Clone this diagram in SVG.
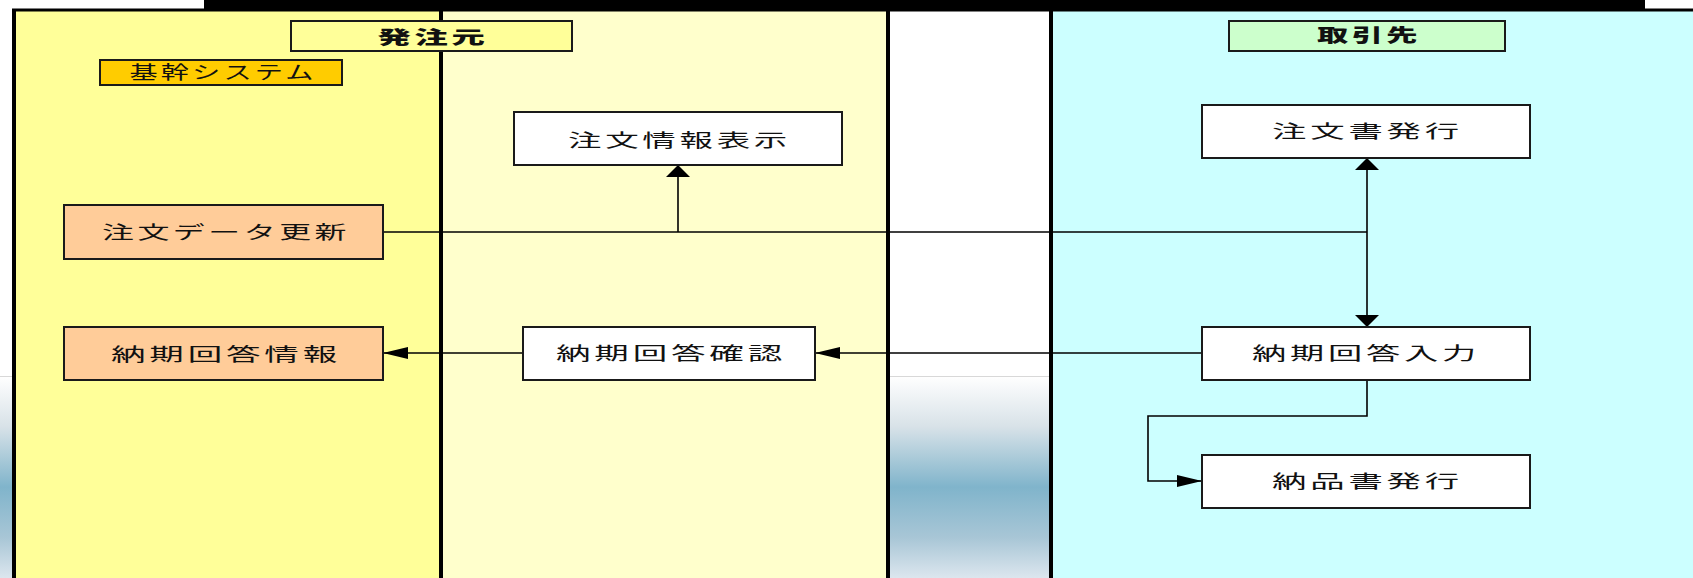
<svg xmlns="http://www.w3.org/2000/svg" width="1693" height="578" viewBox="0 0 1693 578">
<style>
.box{stroke:#1a1a1a;stroke-width:2}
.w{fill:#ffffff}
.o{fill:#ffcc99}
.t{font-family:"Noto Sans CJK JP","Noto Sans CJK SC",sans-serif;font-size:18px;fill:#111;text-anchor:middle;letter-spacing:2px}
.tb{font-weight:900}
.ln{fill:none;stroke:#000;stroke-width:1.6}
.div{stroke:#000;stroke-width:4}
</style>
<defs>
<linearGradient id="bg" x1="0" y1="0" x2="0" y2="1">
<stop offset="0" stop-color="#ffffff"/>
<stop offset="0.25" stop-color="#d8e2e8"/>
<stop offset="0.55" stop-color="#80b4cb"/>
<stop offset="0.8" stop-color="#a8c6d6"/>
<stop offset="1" stop-color="#dce6ee"/>
</linearGradient>
<marker id="ah" markerUnits="userSpaceOnUse" markerWidth="25" markerHeight="12" refX="25" refY="6" orient="auto">
<path d="M0,0 L25,6 L0,12 Z" fill="#000"/>
</marker>
<marker id="av" markerUnits="userSpaceOnUse" markerWidth="12" markerHeight="24" refX="12" refY="12" orient="auto">
<path d="M0,0 L12,12 L0,24 Z" fill="#000"/>
</marker>
</defs>

<g id="background">
<rect x="0" y="0" width="1693" height="578" fill="#ffffff"/>
<rect x="0" y="376" width="14" height="202" fill="url(#bg)"/>
<line x1="0" y1="376.5" x2="14" y2="376.5" stroke="#d8d8d8" stroke-width="1"/>
<rect x="14" y="10" width="427" height="568" fill="#ffff99"/>
<rect x="441" y="10" width="447" height="568" fill="#ffffcc"/>
<rect x="888" y="10" width="163" height="568" fill="#ffffff"/>
<rect x="888" y="376" width="163" height="202" fill="url(#bg)"/>
<line x1="888" y1="376.5" x2="1051" y2="376.5" stroke="#d8d8d8" stroke-width="1"/>
<rect x="1051" y="10" width="642" height="568" fill="#ccffff"/>
<rect x="204" y="0" width="1441" height="11" fill="#000"/>
<line x1="12" y1="10" x2="1693" y2="10" stroke="#000" stroke-width="3"/>
<line class="div" x1="14" y1="9" x2="14" y2="578"/>
<line class="div" x1="441" y1="10" x2="441" y2="578"/>
<line class="div" x1="888" y1="10" x2="888" y2="578"/>
<line class="div" x1="1051" y1="10" x2="1051" y2="578"/>
</g>

<g id="connectors">
<path class="ln" d="M383,232 H1367"/>
<path class="ln" d="M678,232 V165" marker-end="url(#av)"/>
<path class="ln" d="M1367,232 V158" marker-end="url(#av)"/>
<path class="ln" d="M1367,232 V327" marker-end="url(#av)"/>
<path class="ln" d="M1202,353 H815" marker-end="url(#ah)"/>
<path class="ln" d="M523,353 H383" marker-end="url(#ah)"/>
<path class="ln" d="M1367,380 V416 H1148 V481 H1202" marker-end="url(#ah)"/>
</g>

<g id="header-hacchumoto">
<rect class="box" x="291" y="21" width="281" height="30" fill="#ffff99"/>
<text class="t tb" x="433" y="43.5" textLength="111" lengthAdjust="spacingAndGlyphs">発注元</text>
</g>
<g id="header-kikan">
<rect class="box" x="100" y="60" width="242" height="25" fill="#ffcc00"/>
<text class="t" x="223" y="79" textLength="187" lengthAdjust="spacingAndGlyphs">基幹システム</text>
</g>
<g id="header-torihikisaki">
<rect class="box" x="1229" y="21" width="276" height="30" fill="#ccffcc"/>
<text class="t tb" x="1369" y="42" textLength="104" lengthAdjust="spacingAndGlyphs">取引先</text>
</g>

<g id="node-chumon-data">
<rect class="box o" x="64" y="205" width="319" height="54"/>
<text class="t" x="226" y="239" textLength="248" lengthAdjust="spacingAndGlyphs">注文データ更新</text>
</g>
<g id="node-noki-joho">
<rect class="box o" x="64" y="327" width="319" height="53"/>
<text class="t" x="226" y="360.5" textLength="230" lengthAdjust="spacingAndGlyphs">納期回答情報</text>
</g>
<g id="node-chumon-joho">
<rect class="box w" x="514" y="112" width="328" height="53"/>
<text class="t" x="679.5" y="146.5" textLength="223" lengthAdjust="spacingAndGlyphs">注文情報表示</text>
</g>
<g id="node-noki-kakunin">
<rect class="box w" x="523" y="327" width="292" height="53"/>
<text class="t" x="671" y="360" textLength="230" lengthAdjust="spacingAndGlyphs">納期回答確認</text>
</g>
<g id="node-chumonsho">
<rect class="box w" x="1202" y="105" width="328" height="53"/>
<text class="t" x="1367.5" y="138" textLength="191" lengthAdjust="spacingAndGlyphs">注文書発行</text>
</g>
<g id="node-noki-nyuryoku">
<rect class="box w" x="1202" y="327" width="328" height="53"/>
<text class="t" x="1366" y="360" textLength="228" lengthAdjust="spacingAndGlyphs">納期回答入力</text>
</g>
<g id="node-nohinsho">
<rect class="box w" x="1202" y="455" width="328" height="53"/>
<text class="t" x="1367.5" y="488" textLength="191" lengthAdjust="spacingAndGlyphs">納品書発行</text>
</g>
</svg>
